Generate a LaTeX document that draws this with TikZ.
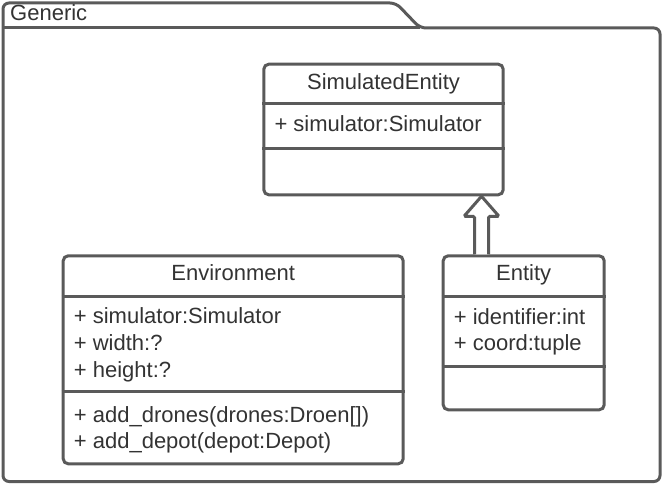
\documentclass[tikz,border=0pt]{standalone}
\usepackage{fontspec}
\setmainfont{Liberation Sans}
\usetikzlibrary{calc}

\definecolor{linegray}{RGB}{90,90,90}
\definecolor{textgray}{RGB}{51,51,51}

\tikzset{
  umlline/.style={draw=linegray, line width=3pt},
  classbox/.style={umlline, rounded corners=5pt, fill=white, inner sep=0pt, anchor=north west},
  headtxt/.style={text=textgray, font=\fontsize{22}{26}\selectfont, anchor=base, inner sep=0pt},
  membertxt/.style={text=textgray, font=\fontsize{22}{26}\selectfont, anchor=base west, inner sep=0pt}
}

\begin{document}
\begin{tikzpicture}[x=1pt, y=-1pt]
      \useasboundingbox (0,0) rectangle (663,484);
      % package frame
      \draw[umlline, rounded corners=6pt] (3,481.5) -- (3,3) -- (396,3) -- (420,28) -- (660,28) -- (660,481.5) -- cycle;
      \draw[umlline] (3,28) -- (420,28);
      \node[membertxt] (generic) at (10,20.5) {Generic};

      % classes
      \node[classbox, minimum width=239.4pt, minimum height=130.6pt] (simulated) at (262.3,62.7) {};
      \draw[umlline] (simulated.west |- 0,103.3) -- (simulated.east |- 0,103.3);
      \draw[umlline] (simulated.west |- 0,148.3) -- (simulated.east |- 0,148.3);
      \node[headtxt] (simulatedname) at (simulated.north |- 0,89.5) {SimulatedEntity};
      \node[membertxt] (simulatedattr) at ([xshift=12pt]simulated.west |- 0,131.7) {+ simulator:Simulator};

      \node[classbox, minimum width=340pt, minimum height=208pt] (env) at (61.7,254.3) {};
      \draw[umlline] (env.west |- 0,296.7) -- (env.east |- 0,296.7);
      \draw[umlline] (env.west |- 0,391.7) -- (env.east |- 0,391.7);
      \node[headtxt] (envname) at (env.north |- 0,280.5) {Environment};
      \node[membertxt] (envattra) at ([xshift=12pt]env.west |- 0,323.5) {+ simulator:Simulator};
      \node[membertxt] (envattrb) at ([xshift=12pt]env.west |- 0,350.3) {+ width:?};
      \node[membertxt] (envattrc) at ([xshift=12pt]env.west |- 0,377.1) {+ height:?};
      \node[membertxt] (envopa) at ([xshift=12pt]env.west |- 0,422) {+ add\_drones(drones:Droen[])};
      \node[membertxt] (envopb) at ([xshift=12pt]env.west |- 0,448.7) {+ add\_depot(depot:Depot)};

      \node[classbox, minimum width=161pt, minimum height=154pt] (entity) at (441.7,254.3) {};
      \draw[umlline] (entity.west |- 0,296.7) -- (entity.east |- 0,296.7);
      \draw[umlline] (entity.west |- 0,366.7) -- (entity.east |- 0,366.7);
      \node[headtxt] (entityname) at (entity.north |- 0,280.5) {Entity};
      \node[membertxt] (entityattra) at ([xshift=12pt]entity.west |- 0,324) {+ identifier:int};
      \node[membertxt] (entityattrb) at ([xshift=12pt]entity.west |- 0,350.5) {+ coord:tuple};

      % generalization
      \coordinate (foot) at (entity.north -| 481.5,0);
      \coordinate (tip) at (simulated.south -| 481.5,0);
      \draw[umlline, fill=white, rounded corners=1.5pt] ($(foot)+(-7,0)$) -- ($(tip)+(-7,20)$) -- ($(tip)+(-17.5,20)$)
        -- (tip) -- ($(tip)+(17.5,20)$) -- ($(tip)+(7,20)$) -- ($(foot)+(7,0)$);
    \end{tikzpicture}
\end{document}
